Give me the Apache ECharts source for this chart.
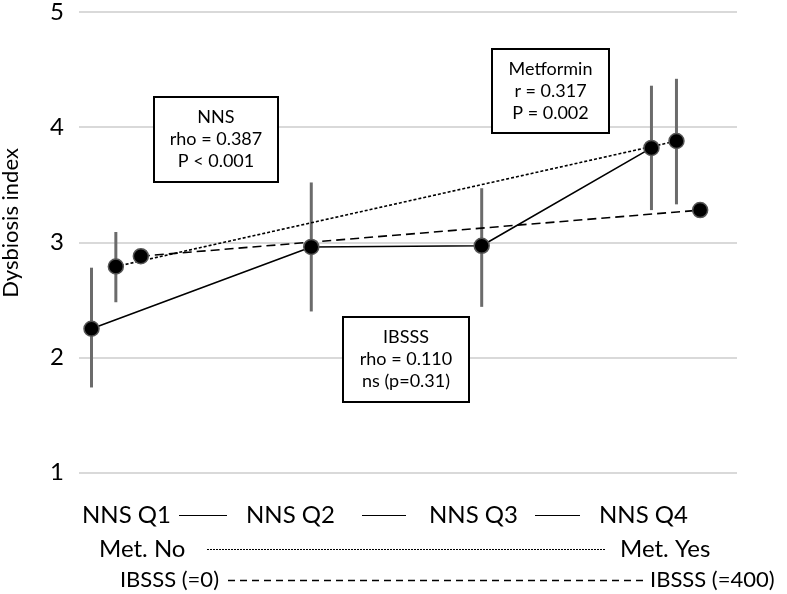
<!DOCTYPE html>
<html>
<head>
<meta charset="utf-8">
<script src="https://cdn.jsdelivr.net/npm/echarts@6/dist/echarts.min.js"></script>
<style>html,body{margin:0;padding:0;background:#fff}#c{width:787px;height:594px}</style>
</head>
<body>
<div id="c"></div>
<script>
// ---- data ----
const nnsLabels = ['NNS Q1', 'NNS Q2', 'NNS Q3', 'NNS Q4'];
const nnsX = [1.9, 35.3, 61.2, 87.0];
const nnsMean = [2.25, 2.96, 2.97, 3.82];
const nnsLow = [1.74, 2.40, 2.44, 3.28];
const nnsHigh = [2.78, 3.52, 3.47, 4.36];

const metLabels = ['Met. No', 'Met. Yes'];
const metX = [5.6, 90.8];
const metMean = [2.79, 3.88];
const metLow = [2.48, 3.33];
const metHigh = [3.09, 4.42];

const ibsLabels = ['IBSSS (=0)', 'IBSSS (=400)'];
const ibsX = [9.4, 94.4];
const ibsMean = [2.88, 3.28];

const yTicks = [1, 2, 3, 4, 5];
const boxNNS = ['NNS', 'rho = 0.387', 'P < 0.001'];
const boxMet = ['Metformin', 'r = 0.317', 'P = 0.002'];
const boxIBS = ['IBSSS', 'rho = 0.110', 'ns (p=0.31)'];

// ---- build ----
const FONT = 'Lato, "Open Sans", sans-serif';
const pairs = (xs, ys) => xs.map((x, i) => [x, ys[i]]);
const errData = nnsX.map((x, i) => [x, nnsLow[i], nnsHigh[i]])
  .concat(metX.map((x, i) => [x, metLow[i], metHigh[i]]));

const chart = echarts.init(document.getElementById('c'), null, {renderer: 'canvas'});

function box(cx, top, w, h, lines) {
  return {
    type: 'group',
    children: [
      {type: 'rect', shape: {x: cx - w / 2, y: top, width: w, height: h},
       style: {fill: '#fff', stroke: '#000', lineWidth: 2}, z: 100},
      {type: 'text', x: cx, y: top + h / 2, z: 101,
       style: {text: lines.join('\n'), fontSize: 18, fontFamily: FONT, fill: '#000',
               align: 'center', verticalAlign: 'middle', lineHeight: 22}}
    ]
  };
}
function label(x, y, t, align, size) {
  return {type: 'text', x: x, y: y, z: 50,
    style: {text: t, fontSize: size || 24, fontFamily: FONT, fill: '#000',
            align: align || 'left', verticalAlign: 'middle'}};
}
function hline(x1, x2, y, dash, w) {
  return {type: 'line', z: 50, shape: {x1: x1, y1: y, x2: x2, y2: y},
    style: {stroke: '#000', lineWidth: w || 1, lineDash: dash || null}};
}

const symStyle = {color: '#000', borderColor: '#555', borderWidth: 1.5};

chart.setOption({
  animation: false,
  backgroundColor: '#fff',
  grid: {left: 79, right: 50, top: 9.5, bottom: 121.3, containLabel: false},
  xAxis: {type: 'value', min: 0, max: 100, show: false},
  yAxis: {
    type: 'value', min: 1, max: 5, interval: 1,
    axisLine: {show: false}, axisTick: {show: false},
    axisLabel: {fontSize: 24, fontFamily: FONT, color: '#000', margin: 15,
                formatter: v => yTicks.includes(v) ? String(v) : ''},
    splitLine: {lineStyle: {color: '#d9d9d9', width: 2}}
  },
  series: [
    {
      type: 'custom', z: 1, data: errData,
      renderItem: (params, api) => {
        const p1 = api.coord([api.value(0), api.value(1)]);
        const p2 = api.coord([api.value(0), api.value(2)]);
        return {type: 'line', shape: {x1: p1[0], y1: p1[1], x2: p2[0], y2: p2[1]},
                style: {stroke: '#6b6b6b', lineWidth: 3}};
      }
    },
    {
      name: 'NNS', type: 'line', z: 3, data: pairs(nnsX, nnsMean),
      symbol: 'circle', symbolSize: 15, itemStyle: symStyle,
      lineStyle: {color: '#000', width: 1.6, type: 'solid'}
    },
    {
      name: 'Metformin', type: 'line', z: 3, data: pairs(metX, metMean),
      symbol: 'circle', symbolSize: 15, itemStyle: symStyle,
      lineStyle: {color: '#000', width: 1.6, type: [3, 2]}
    },
    {
      name: 'IBSSS', type: 'line', z: 3, data: pairs(ibsX, ibsMean),
      symbol: 'circle', symbolSize: 15, itemStyle: symStyle,
      lineStyle: {color: '#000', width: 1.6, type: [9, 5]}
    }
  ],
  graphic: [
    {type: 'text', x: 11, y: 223, rotation: Math.PI / 2, z: 50,
     style: {text: 'Dysbiosis index', fontSize: 22, fontFamily: FONT, fill: '#000',
             align: 'center', verticalAlign: 'middle'}},
    box(216, 97, 124, 85, boxNNS),
    box(550.5, 49, 117, 84, boxMet),
    box(406, 317, 126, 85, boxIBS),
    // row 1
    label(82, 515, nnsLabels[0]),
    hline(179, 227, 515.5, null, 1),
    label(246, 515, nnsLabels[1]),
    hline(362, 406, 515.5, null, 1),
    label(429, 515, nnsLabels[2]),
    hline(535, 580, 515.5, null, 1),
    label(599, 515, nnsLabels[3]),
    // row 2
    label(99, 549, metLabels[0]),
    hline(207, 605, 549.5, [2, 1], 1.2),
    label(620, 549, metLabels[1]),
    // row 3
    label(219, 580, ibsLabels[0], 'right', 22),
    hline(228, 643, 580.5, [7, 5], 1.3),
    label(650, 580, ibsLabels[1], 'left', 22)
  ]
});
</script>
</body>
</html>
